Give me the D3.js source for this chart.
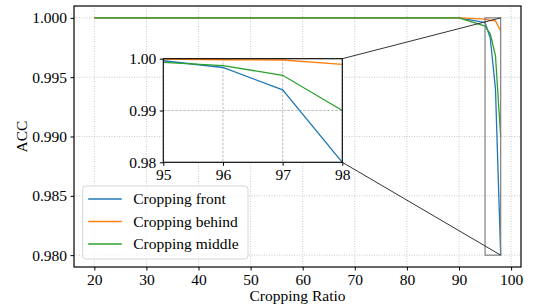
<!DOCTYPE html>
<html>
<head>
<meta charset="utf-8">
<script src="https://cdn.jsdelivr.net/npm/d3@7"></script>
<style>
  body { margin: 0; background: #fff; }
  svg { display: block; }
</style>
</head>
<body>
<div id="chart"></div>
<script>
// data
const ratios = [20, 30, 40, 50, 60, 70, 80, 90, 95, 96, 97, 98];
const front  = [1, 1, 1, 1, 1, 1, 1, 1, 0.9996, 0.9983, 0.9940, 0.9800];
const behind = [1, 1, 1, 1, 1, 1, 1, 1, 0.9999, 0.9998, 0.99975, 0.9989];
const middle = [1, 1, 1, 1, 1, 1, 1, 1, 0.9993, 0.99865, 0.9968, 0.9900];
const seriesNames = ["Cropping front", "Cropping behind", "Cropping middle"];
const seriesColors = ["#1f77b4", "#ff7f0e", "#2ca02c"];
const xTicks = [20, 30, 40, 50, 60, 70, 80, 90, 100];
const yTicks = [0.980, 0.985, 0.990, 0.995, 1.000];
const insetXTicks = [95, 96, 97, 98];
const insetYTicks = [0.98, 0.99, 1.00];
const zoomX = [95, 98];
const zoomY = [0.98, 1.0];

const width = 537, height = 307;
const fontSize = "15.5px";
const serif = '"Liberation Serif"';
const series = [front, behind, middle];

const svg = d3.select("#chart").append("svg")
  .attr("width", width)
  .attr("height", height);

// main axes area
const mLeft = 74, mRight = 521, mTop = 6, mBottom = 267;
const x = d3.scaleLinear([16.1, 101.9], [mLeft, mRight]);
const y = d3.scaleLinear([0.979, 1.001], [mBottom, mTop]);

svg.append("defs").append("clipPath").attr("id", "mainclip")
  .append("rect").attr("x", mLeft).attr("y", mTop)
  .attr("width", mRight - mLeft).attr("height", mBottom - mTop);

// grid
const grid = svg.append("g");
grid.selectAll(".gx").data(xTicks).enter().append("line")
  .attr("x1", d => x(d)).attr("x2", d => x(d))
  .attr("y1", mTop).attr("y2", mBottom);
grid.selectAll(".gy").data(yTicks).enter().append("line")
  .attr("y1", d => y(d)).attr("y2", d => y(d))
  .attr("x1", mLeft).attr("x2", mRight);
grid.selectAll("line")
  .attr("stroke", "#c4c4c4").attr("stroke-width", 0.9)
  .attr("stroke-dasharray", "1,1.5");

// lines
const line = (xs, ys) => d3.line().x((d, i) => xs(ratios[i])).y(d => ys(d));
const mainLines = svg.append("g").attr("clip-path", "url(#mainclip)");
series.forEach((s, k) => {
  mainLines.append("path").datum(s)
    .attr("d", line(x, y))
    .attr("fill", "none")
    .attr("stroke", seriesColors[k])
    .attr("stroke-width", 1.3);
});

function styleAxis(g) {
  g.select(".domain").remove();
  g.attr("font-family", null).attr("font-size", null);
  g.selectAll("text")
    .style("font-family", serif).attr("font-size", fontSize)
    .attr("fill", "#000");
  g.selectAll(".tick line").attr("stroke", "#000");
}

// axes
const xAxis = svg.append("g")
  .attr("transform", `translate(0, ${mBottom})`)
  .call(d3.axisBottom(x).tickValues(xTicks).tickSize(3.5).tickPadding(3.5));
const yAxis = svg.append("g")
  .attr("transform", `translate(${mLeft}, 0)`)
  .call(d3.axisLeft(y).tickValues(yTicks).tickFormat(d3.format(".3f")).tickSize(3.5).tickPadding(3.5));
styleAxis(xAxis);
styleAxis(yAxis);

svg.append("rect")
  .attr("x", mLeft).attr("y", mTop)
  .attr("width", mRight - mLeft).attr("height", mBottom - mTop)
  .attr("fill", "none").attr("stroke", "#000").attr("stroke-width", 1.2);

svg.append("text")
  .attr("x", (mLeft + mRight) / 2).attr("y", 301)
  .attr("text-anchor", "middle")
  .style("font-family", serif).attr("font-size", fontSize)
  .text("Cropping Ratio");
svg.append("text")
  .attr("transform", `translate(27, ${(mTop + mBottom) / 2}) rotate(-90)`)
  .attr("text-anchor", "middle")
  .style("font-family", serif).attr("font-size", fontSize)
  .text("ACC");

// inset
const iLeft = 163.3, iRight = 342.3, iTop = 58.7, iBottom = 162.3;
const ix = d3.scaleLinear(zoomX, [iLeft, iRight]);
const iy = d3.scaleLinear(zoomY, [iBottom, iTop]);

// zoom indicator rectangle and connectors
svg.append("rect")
  .attr("x", x(zoomX[0])).attr("y", y(zoomY[1]))
  .attr("width", x(zoomX[1]) - x(zoomX[0]))
  .attr("height", y(zoomY[0]) - y(zoomY[1]))
  .attr("fill", "none").attr("stroke", "#7f7f7f").attr("stroke-width", 1.2);
svg.append("line")
  .attr("x1", iRight).attr("y1", iTop)
  .attr("x2", x(zoomX[1])).attr("y2", y(zoomY[1]))
  .attr("stroke", "#333").attr("stroke-width", 1);
svg.append("line")
  .attr("x1", iRight).attr("y1", iBottom)
  .attr("x2", x(zoomX[1])).attr("y2", y(zoomY[0]))
  .attr("stroke", "#333").attr("stroke-width", 1);

svg.append("defs").append("clipPath").attr("id", "insetclip")
  .append("rect").attr("x", iLeft).attr("y", iTop - 1)
  .attr("width", iRight - iLeft).attr("height", iBottom - iTop + 2);

svg.append("rect")
  .attr("x", iLeft).attr("y", iTop)
  .attr("width", iRight - iLeft).attr("height", iBottom - iTop)
  .attr("fill", "#fff");

const igrid = svg.append("g");
igrid.selectAll(".gx").data(insetXTicks).enter().append("line")
  .attr("x1", d => ix(d)).attr("x2", d => ix(d))
  .attr("y1", iTop).attr("y2", iBottom);
igrid.selectAll(".gy").data(insetYTicks).enter().append("line")
  .attr("y1", d => iy(d)).attr("y2", d => iy(d))
  .attr("x1", iLeft).attr("x2", iRight);
igrid.selectAll("line")
  .attr("stroke", "#a8a8a8").attr("stroke-width", 0.8)
  .attr("stroke-dasharray", "2.5,1.5");

const insetLines = svg.append("g").attr("clip-path", "url(#insetclip)");
series.forEach((s, k) => {
  insetLines.append("path").datum(s)
    .attr("d", line(ix, iy))
    .attr("fill", "none")
    .attr("stroke", seriesColors[k])
    .attr("stroke-width", 1.3);
});

const ixAxis = svg.append("g")
  .attr("transform", `translate(0, ${iBottom})`)
  .call(d3.axisBottom(ix).tickValues(insetXTicks).tickFormat(d3.format("d")).tickSize(3.5).tickPadding(3.5));
const iyAxis = svg.append("g")
  .attr("transform", `translate(${iLeft}, 0)`)
  .call(d3.axisLeft(iy).tickValues(insetYTicks).tickFormat(d3.format(".2f")).tickSize(3.5).tickPadding(3.5));
styleAxis(ixAxis);
styleAxis(iyAxis);

svg.append("rect")
  .attr("x", iLeft).attr("y", iTop)
  .attr("width", iRight - iLeft).attr("height", iBottom - iTop)
  .attr("fill", "none").attr("stroke", "#000").attr("stroke-width", 1.1);

// legend
const legend = svg.append("g").attr("transform", "translate(82.7, 186)");
legend.append("rect")
  .attr("width", 165.3).attr("height", 73)
  .attr("rx", 3).attr("ry", 3)
  .attr("fill", "#fff").attr("fill-opacity", 0.8)
  .attr("stroke", "#d6d6d6").attr("stroke-width", 1);
const rows = legend.selectAll(".row").data(seriesNames).enter().append("g")
  .attr("transform", (d, i) => `translate(0, ${13 + i * 22.5})`);
rows.append("line")
  .attr("x1", 5.5).attr("x2", 39)
  .attr("stroke", (d, i) => seriesColors[i]).attr("stroke-width", 1.3);
rows.append("text")
  .attr("x", 50.5).attr("y", 5.3)
  .style("font-family", serif).attr("font-size", fontSize)
  .text(d => d);
</script>
</body>
</html>
